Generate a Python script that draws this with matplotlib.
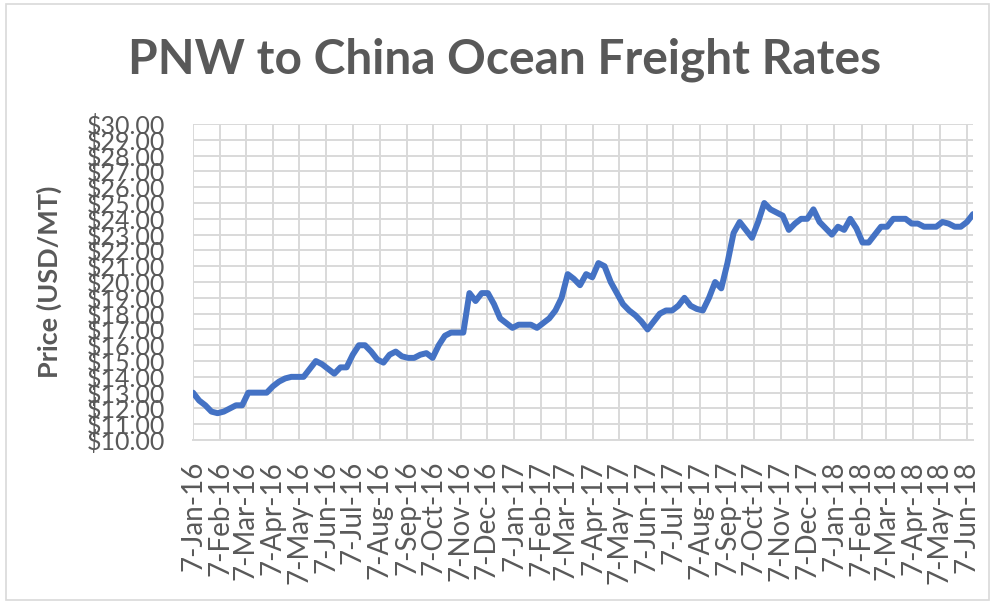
import numpy as np
import pandas as pd
import matplotlib
matplotlib.use("Agg")
import matplotlib.pyplot as plt
import matplotlib.dates as mdates
from matplotlib.patches import Rectangle

# ---- data (weekly) ----
rates = [
    13.0, 12.5, 12.2, 11.8, 11.7, 11.8, 12.0, 12.2, 12.2, 13.0,
    13.0, 13.0, 13.0, 13.4, 13.7, 13.9, 14.0, 14.0, 14.0, 14.5,
    15.0, 14.8, 14.5, 14.2, 14.6, 14.6, 15.4, 16.0, 16.0, 15.6,
    15.1, 14.9, 15.4, 15.6, 15.3, 15.2, 15.2, 15.4, 15.5, 15.2,
    16.0, 16.6, 16.8, 16.8, 16.8, 19.3, 18.8, 19.3, 19.3, 18.6,
    17.7, 17.4, 17.1, 17.3, 17.3, 17.3, 17.1, 17.4, 17.7, 18.2,
    19.0, 20.5, 20.2, 19.8, 20.5, 20.3, 21.2, 21.0, 20.0, 19.3,
    18.6, 18.2, 17.9, 17.5, 17.0, 17.5, 18.0, 18.2, 18.2, 18.5,
    19.0, 18.5, 18.3, 18.2, 19.0, 20.0, 19.6, 21.2, 23.1, 23.8,
    23.3, 22.8, 23.8, 25.0, 24.6, 24.4, 24.2, 23.3, 23.7, 24.0,
    24.0, 24.6, 23.8, 23.4, 23.0, 23.5, 23.3, 24.0, 23.4, 22.5,
    22.5, 23.0, 23.5, 23.5, 24.0, 24.0, 24.0, 23.7, 23.7, 23.5,
    23.5, 23.5, 23.8, 23.7, 23.5, 23.5, 23.8, 24.3,
]
start_date = "2016-01-07"
months = ["Jan", "Feb", "Mar", "Apr", "May", "Jun", "Jul", "Aug", "Sep", "Oct", "Nov", "Dec"]
years = [2016, 2017, 2018]
y_ticks = list(range(10, 31))

dates = pd.date_range(start_date, periods=len(rates), freq="7D")

tick_dates = []
tick_labels = []
for yr in years:
    for m, name in enumerate(months, start=1):
        d = pd.Timestamp(year=yr, month=m, day=7)
        if dates[0] <= d <= dates[-1]:
            tick_dates.append(d)
            tick_labels.append(f"7-{name}-{str(yr)[2:]}")

grey = "#595959"
grid_c = "#d9d9d9"

plt.rcParams["font.family"] = ["Lato", "DejaVu Sans"]

fig = plt.figure(figsize=(9.95, 6.02), dpi=100)
ax = fig.add_axes([0.194, 0.269, 0.784, 0.525])

ax.plot(dates, rates, color="#4472C4", lw=4.3, solid_joinstyle="round", solid_capstyle="round", zorder=3)

ax.set_xlim(dates[0], dates[-1])
ax.set_ylim(10, 30)
ax.set_yticks(y_ticks)
ax.set_yticklabels([f"${v:.2f}" for v in y_ticks])
ax.set_xticks(tick_dates)
ax.set_xticklabels(tick_labels, rotation=90)

ax.grid(True, color=grid_c, lw=1.4)
ax.set_axisbelow(True)
for s in ["top", "right", "left"]:
    ax.spines[s].set_visible(False)
ax.spines["bottom"].set_color(grid_c)
ax.spines["bottom"].set_linewidth(1.4)
ax.tick_params(axis="both", length=0, colors=grey)
ax.tick_params(axis="y", pad=20, labelsize=18)
ax.tick_params(axis="x", pad=15, labelsize=20)

ax.set_ylabel("Price (USD/MT)", fontsize=19.5, fontweight="bold", color=grey)
ax.yaxis.set_label_coords(-0.168, 0.5)

fig.text(0.507, 0.90, "PNW to China Ocean Freight Rates", ha="center", va="center",
         fontsize=34.5, fontweight="bold", color=grey)

fig.patches.append(Rectangle((0.006, 0.004), 0.988, 0.99, transform=fig.transFigure,
                             fill=False, edgecolor=grid_c, lw=1.2))

fig.savefig("out.png", dpi=100)
